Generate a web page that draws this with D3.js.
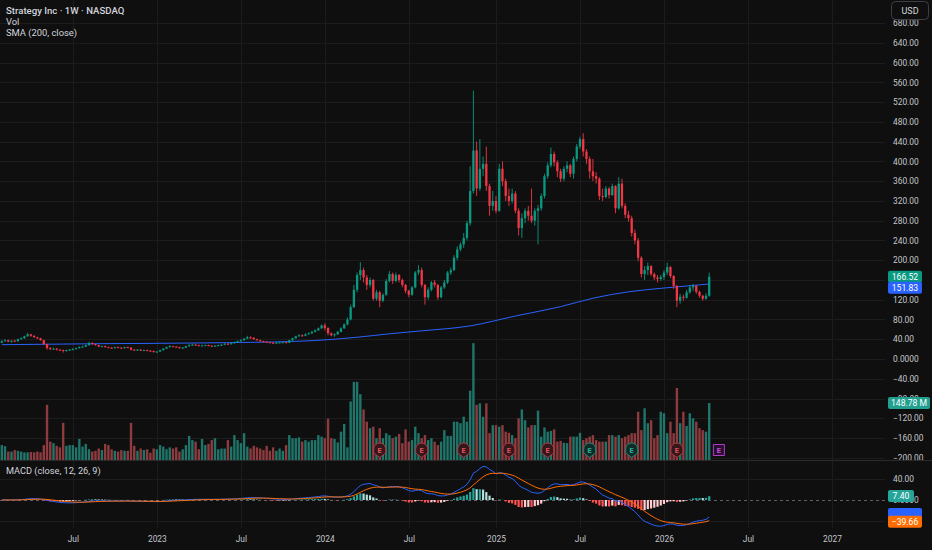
<!DOCTYPE html>
<html>
<head>
<meta charset="utf-8">
<script src="https://cdn.jsdelivr.net/npm/d3@7"></script>
<style>
  html, body { margin: 0; padding: 0; background: #0f0f0f; overflow: hidden; }
  svg { display: block; font-family: Roboto, "Noto Sans", sans-serif; }
</style>
</head>
<body>
<div class="content"></div>
<script>
const SVG_W = 932, SVG_H = 550;
const PLOT_R = 885;                 // price scale starts here
const MAIN_B = 460;                 // bottom of price pane
const MACD_T = 461, MACD_B = 528;   // macd pane

// ---- data (weekly bars, split adjusted, from the week of 2022-01-31) ----
const firstWeek = "2022-01-31";
const firstOpen = 33;
const weekClose = [
  36,38,35,37,36,40,42,46,50,47, 44,42,38,30,22,20,21,19,18,16,
  18,19,20,22,24,25,28,32,30,28, 25,26,24,23,22,24,23,22,24,23,
  19,18,19,17,18,17,16,14,15,18, 21,24,26,25,24,22,23,26,28,29,
  28,27,27.5,28,27,26,27,28,29,31, 30,32,34,36,38,41,44,43,40,38,
  36,35,34,33,32,33,33.5,34,33,38, 42,46,48,47,50,52,55,58,62,68,
  63,52,48,50,55,62,70,80,105,140, 170,180,165,150,160,122,135,118,130,158,
  172,158,170,160,150,138,130,145,175,180, 150,125,140,155,150,125,145,155,175,180,
  205,222,232,245,275,340,422,345,385,395, 350,310,320,300,385,360,330,320,335,300,
  265,285,300,290,280,300,305,330,370,392, 415,398,380,365,385,392,375,405,430,445,
  420,405,380,370,365,330,328,345,332,350, 305,355,310,292,285,255,240,205,172,180,
  188,172,165,162,166,175,186,168,148,118, 126,124,135,145,148,136,128,122,128,166.52
];
const weekHigh = [
  38,40,39,38,39,41,44,47,53,51, 48,45,43,39,31,24,23,22,20,19,
  19,20,22,23,26,27,29,35,34,31, 29,27,27,25,24,25,25,24,25,25,
  24,20,20,20,19,19,18,17,16,19, 22,25,28,27,26,25,24,27,30,31,
  30,29,29,29,29,28,28,29,30,32, 32,33,35,37,40,43,47,46,44,41,
  39,37,36,35,34,34,35,35,35,39, 43,47,50,50,52,54,57,60,64,70,
  72,64,54,52,57,64,72,84,110,150, 175,196,185,170,165,162,140,138,133,162,
  178,175,175,172,163,152,140,148,178,190, 185,152,145,158,160,152,148,160,178,185,
  210,228,236,255,280,390,543,440,445,410, 430,355,340,330,395,400,365,345,345,340,
  305,295,305,310,345,305,312,335,375,398, 428,420,402,385,390,400,395,410,435,450,
  457,425,410,405,378,368,345,350,348,355, 352,368,365,315,300,290,262,245,208,188,
  195,190,175,170,170,180,195,188,170,150, 132,130,140,150,152,150,138,130,133,175
];
const weekLow = [
  32,35,34,33,35,35,39,41,45,45, 43,40,37,29,19,18,19,17,16,13,
  15,17,18,19,21,23,24,27,29,27, 24,24,23,22,21,21,22,21,21,22,
  17,17,17,16,16,16,15,13,13,15, 17,20,23,24,23,21,21,22,25,27,
  27,26,26,27,26,25,25,26,27,28, 29,29,31,33,35,37,40,41,39,37,
  35,34,33,32,31,31,32,32,32,32, 37,41,45,45,46,49,51,54,57,61,
  58,48,46,45,49,54,61,68,78,103, 135,160,155,140,145,118,118,105,115,128,
  155,152,155,155,145,133,125,128,143,170, 145,110,120,137,145,120,123,142,152,170,
  178,200,218,225,240,270,335,330,340,370, 340,290,300,295,298,350,320,310,315,295,
  250,245,275,280,275,270,232,300,325,365, 388,390,368,358,360,378,368,365,400,425,
  410,395,365,360,355,322,320,325,325,330, 295,302,305,285,278,248,232,198,165,160,
  170,168,160,155,158,160,170,164,142,105, 112,118,122,132,138,132,124,118,120,126
];
// volume in millions of shares
const weekVolume = [
  39,36,22,22,26,24,22,20,20,21, 20,22,20,39,144,48,44,37,33,97,
  37,39,39,33,55,35,42,28,22,24, 30,26,42,39,28,24,22,26,24,24,
  97,37,24,30,26,28,19,30,28,39, 35,28,33,30,33,22,28,39,63,52,
  48,28,55,39,42,52,57,28,30,30, 52,35,65,52,44,70,35,30,37,33,
  30,26,37,24,33,24,30,24,39,65, 57,57,59,48,52,48,52,52,65,61,
  57,108,57,55,46,74,94,33,153,204, 204,172,132,100,83,87,57,83,57,70,
  65,57,61,68,44,80,48,52,87,70, 57,65,52,57,48,39,48,78,63,63,
  100,100,96,113,100,181,305,144,148,113, 148,70,91,91,87,91,74,71,65,57,
  109,132,104,85,91,91,129,61,85,74, 76,80,48,50,45,44,61,61,61,71,
  52,57,61,65,52,48,48,48,65,65, 61,65,57,61,65,70,70,126,78,135,
  96,104,57,65,126,122,70,100,70,188, 96,126,89,122,109,100,83,78,74,148.78
];
// SMA(200): [week index, value]
const smaPoints = [
  [0,29],[31,31],[62,32.5],[92,36],[110,44],[120,51],[130,57],[145,67],
  [159,87],[173,106],[183,123],[194,136],[204,143],[209,146],[219,151.83]
];
const earnings = [
  ["2024-04-29","miss"],["2024-07-29","miss"],["2024-10-28","miss"],["2025-02-03","miss"],
  ["2025-04-28","miss"],["2025-07-28","beat"],["2025-10-27","beat"],["2026-02-02","miss"],
  ["2026-05-04","next"]
];
const priceTicks = [-200,-160,-120,-80,-40,0,40,80,120,160,200,240,280,320,360,400,440,480,520,560,600,640,680];
const macdTicks = [-40, 0, 40];
const timeTickDates = ["2022-07-04","2023-01-02","2023-07-03","2024-01-01","2024-07-01",
                       "2025-01-06","2025-07-07","2026-01-05","2026-07-06","2027-01-04"];
const timeTickLabels = ["Jul","2023","Jul","2024","Jul","2025","Jul","2026","Jul","2027"];
const lastHist = 7.40, lastMacd = -32.26, lastSignal = -39.66;

// ---- colours ----
const UP = "#089981", DOWN = "#f23645";
const VOL_UP = "#1f7569", VOL_DOWN = "#8e3b3f";
const GRID = "#1c1c1c", AXIS_TXT = "#c3c6cc", LEG_TXT = "#d1d4dc";
const FONT = 'Roboto, "Noto Sans", sans-serif';

const weekMs = 7 * 864e5, t0 = new Date(firstWeek).getTime();
const weekIndex = d => Math.round((new Date(d).getTime() - t0) / weekMs);

const bars = weekClose.map((c, i) => ({
  i, c, o: i === 0 ? firstOpen : weekClose[i - 1], h: weekHigh[i], l: weekLow[i], v: weekVolume[i]
}));
bars.forEach(b => b.up = b.c >= b.o);

// ---- scales ----
const x = d3.scaleLinear().domain([0, 219]).range([1.8, 709.2]);
const y = d3.scaleLinear().domain([0, 680]).range([359, 359 - 680 * 0.494]);
const vy = d3.scaleLinear().domain([0, 300]).range([MAIN_B, MAIN_B - 300 * 0.383]);
const my = d3.scaleLinear().domain([-40, 40]).range([521, 479]);

const svg = d3.select(".content").append("svg").attr("width", SVG_W).attr("height", SVG_H);
svg.append("rect").attr("width", SVG_W).attr("height", SVG_H).attr("fill", "#0f0f0f");

const defs = svg.append("defs");
function clip(id, x0, y0, w, h) {
  defs.append("clipPath").attr("id", id).append("rect").attr("x", x0).attr("y", y0).attr("width", w).attr("height", h);
}
clip("clip-main", 0, 0, PLOT_R, MAIN_B);
clip("clip-macd", 0, MACD_T, PLOT_R, MACD_B - MACD_T);
clip("clip-paxis", PLOT_R, 0, SVG_W - PLOT_R, MAIN_B);
clip("clip-maxis", PLOT_R, MACD_T, SVG_W - PLOT_R, MACD_B - MACD_T);

// ---- grid ----
const grid = svg.append("g");
grid.selectAll(".vgrid").data(timeTickDates).join("line").attr("class", "vgrid")
  .attr("x1", d => Math.round(x(weekIndex(d))) + 0.5).attr("x2", d => Math.round(x(weekIndex(d))) + 0.5)
  .attr("y1", 0).attr("y2", MACD_B).attr("stroke", GRID);
grid.selectAll(".hgrid").data(priceTicks.filter(v => y(v) < MAIN_B - 1)).join("line").attr("class", "hgrid")
  .attr("x1", 0).attr("x2", PLOT_R).attr("y1", d => Math.round(y(d)) + 0.5).attr("y2", d => Math.round(y(d)) + 0.5)
  .attr("stroke", GRID);
grid.selectAll(".mgrid").data(macdTicks.filter(v => v !== 0)).join("line").attr("class", "mgrid")
  .attr("x1", 0).attr("x2", PLOT_R).attr("y1", d => Math.round(my(d)) + 0.5).attr("y2", d => Math.round(my(d)) + 0.5)
  .attr("stroke", GRID);

// ---- price pane ----
const main = svg.append("g").attr("clip-path", "url(#clip-main)");

main.selectAll(".vol").data(bars).join("rect").attr("class", "vol")
  .attr("x", d => x(d.i) - 1.2).attr("width", 2.4)
  .attr("y", d => vy(d.v)).attr("height", d => MAIN_B - vy(d.v))
  .attr("fill", d => d.up ? VOL_UP : VOL_DOWN);

// earnings markers
const eColors = {
  miss: { fill: "#35161a", stroke: "#b23a43", text: "#e0545e" },
  beat: { fill: "#0e2b27", stroke: "#1b8a78", text: "#2bb39c" },
  next: { fill: "#2a0e30", stroke: "#b03cc8", text: "#c64fdc" }
};
const eg = main.selectAll(".earn").data(earnings).join("g").attr("class", "earn")
  .attr("transform", d => `translate(${x(weekIndex(d[0]))},450)`);
eg.append("path")
  .attr("d", d => d[1] === "next"
    ? "M-5.5,-5.5 h11 v11 h-11 Z"
    : "M-6,-1 A6,6 0 1,1 6,-1 L6,3 L0,7.5 L-6,3 Z")
  .attr("fill", d => eColors[d[1]].fill).attr("stroke", d => eColors[d[1]].stroke).attr("stroke-width", 1);
eg.append("text").attr("text-anchor", "middle").attr("y", 0).attr("dy", "0.35em")
  .attr("font-size", 7.5).attr("font-weight", 700).attr("font-family", FONT)
  .attr("fill", d => eColors[d[1]].text).text("E");

// SMA 200
main.append("path").datum(smaPoints)
  .attr("d", d3.line().x(d => x(d[0])).y(d => y(d[1])).curve(d3.curveMonotoneX))
  .attr("fill", "none").attr("stroke", "#2962ff").attr("stroke-width", 1);

// candles
main.selectAll(".wick").data(bars).join("line").attr("class", "wick")
  .attr("x1", d => x(d.i)).attr("x2", d => x(d.i))
  .attr("y1", d => y(d.h)).attr("y2", d => y(d.l))
  .attr("stroke", d => d.up ? UP : DOWN).attr("stroke-width", 0.9);
main.selectAll(".body").data(bars).join("rect").attr("class", "body")
  .attr("x", d => x(d.i) - 1.15).attr("width", 2.3)
  .attr("y", d => y(Math.max(d.o, d.c)))
  .attr("height", d => Math.max(1, Math.abs(y(d.o) - y(d.c))))
  .attr("fill", d => d.up ? UP : DOWN);

// ---- MACD (close, 12, 26, 9) ----
function ema(src, n) {
  const k = 2 / (n + 1), out = [];
  src.forEach((v, i) => out.push(i === 0 ? v : v * k + out[i - 1] * (1 - k)));
  return out;
}
const e12 = ema(weekClose, 12), e26 = ema(weekClose, 26);
const macd = e12.map((v, i) => v - e26[i]);
const signal = ema(macd, 9);
const hist = macd.map((v, i) => v - signal[i]);
const histColor = (h, i) => {
  const p = i > 0 ? hist[i - 1] : h;
  return h >= 0 ? (h >= p ? "#26a69a" : "#b2dfdb") : (h < p ? "#ff5252" : "#ffcdd2");
};

const mp = svg.append("g").attr("clip-path", "url(#clip-macd)");
mp.append("line").attr("x1", 0).attr("x2", PLOT_R).attr("y1", Math.round(my(0)) + 0.5).attr("y2", Math.round(my(0)) + 0.5)
  .attr("stroke", "#5d606b").attr("stroke-dasharray", "3,3");
mp.selectAll(".hist").data(hist).join("rect").attr("class", "hist")
  .attr("x", (d, i) => x(i) - 1.1).attr("width", 2.2)
  .attr("y", d => Math.min(my(0), my(d))).attr("height", d => Math.abs(my(d) - my(0)))
  .attr("fill", histColor);
const mline = d3.line().x((d, i) => x(i)).y(d => my(d));
mp.append("path").datum(macd).attr("d", mline).attr("fill", "none").attr("stroke", "#2962ff").attr("stroke-width", 1);
mp.append("path").datum(signal).attr("d", mline).attr("fill", "none").attr("stroke", "#ff6d00").attr("stroke-width", 1);

// pane separator
svg.append("line").attr("x1", 0).attr("x2", SVG_W).attr("y1", MAIN_B + 0.5).attr("y2", MAIN_B + 0.5)
  .attr("stroke", "#2a2a2a");

// ---- last value tags (positions first, so fully covered scale labels can be skipped) ----
const lastBar = bars[bars.length - 1];
const lastSma = smaPoints[smaPoints.length - 1][1];
const fmtPrice = v => v === 0 ? "0.0000" : (v < 0 ? "\u2212" : "") + Math.abs(v).toFixed(2);
const closeY = y(lastBar.c);
const priceTags = [
  { cy: closeY, text: fmtPrice(lastBar.c), fill: UP, w: 34 },
  { cy: Math.max(y(lastSma), closeY + 11), text: fmtPrice(lastSma), fill: "#2962ff", w: 34 },
  { cy: vy(lastBar.v), text: lastBar.v.toFixed(2) + " M", fill: "#22a08f", w: 42 }
];
const macdTags = [
  { cy: my(lastHist), text: fmtPrice(lastHist), fill: "#26a69a", w: 26 },
  { cy: my(lastMacd) - 3, text: "", fill: "#2962ff", w: 34 },           // hidden under the signal tag
  { cy: my(lastSignal) + 1, text: fmtPrice(lastSignal), fill: "#ff6d00", w: 34 }
];
const covered = (tagList, pos) => tagList.some(t => t.w >= 33 && Math.abs(t.cy - pos) < 4);

// ---- axes ----
function styleAxis(g) {
  g.select(".domain").remove();
  g.attr("font-family", FONT).attr("font-size", 8.4);
  g.selectAll("text").attr("fill", AXIS_TXT);
}
svg.append("g").attr("clip-path", "url(#clip-paxis)").append("g")
  .attr("transform", `translate(${PLOT_R},0)`)
  .call(d3.axisRight(y).tickValues(priceTicks.filter(v => !covered(priceTags, y(v))))
    .tickSize(0).tickPadding(8).tickFormat(fmtPrice))
  .call(styleAxis);
svg.append("g").attr("clip-path", "url(#clip-maxis)").append("g")
  .attr("transform", `translate(${PLOT_R},0)`)
  .call(d3.axisRight(my).tickValues(macdTicks.filter(v => !covered(macdTags, my(v))))
    .tickSize(0).tickPadding(8).tickFormat(fmtPrice))
  .call(styleAxis);
svg.append("g").attr("transform", `translate(0,${MACD_B})`)
  .call(d3.axisBottom(x).tickValues(timeTickDates.map(weekIndex)).tickSize(0).tickPadding(8)
    .tickFormat((d, k) => timeTickLabels[k]))
  .call(styleAxis);

const tags = svg.append("g").attr("font-family", FONT);
function tag(t) {
  tags.append("rect").attr("x", 888).attr("y", t.cy - 6).attr("width", t.w).attr("height", 12).attr("rx", 2).attr("fill", t.fill);
  if (t.text) {
    tags.append("text").attr("x", 888 + t.w / 2).attr("y", t.cy).attr("dy", "0.35em").attr("text-anchor", "middle")
      .attr("font-size", 8.6).attr("fill", "#ffffff").text(t.text);
  }
}
priceTags.forEach(tag);
macdTags.forEach(tag);

// ---- legends ----
const leg = svg.append("g").attr("font-family", FONT).attr("fill", LEG_TXT);
leg.append("text").attr("x", 6).attr("y", 14).attr("font-size", 9.6).attr("font-weight", 500)
  .text("Strategy Inc \u00b7 1W \u00b7 NASDAQ");
leg.append("text").attr("x", 6).attr("y", 25).attr("font-size", 9.4).text("Vol");
leg.append("text").attr("x", 6).attr("y", 36).attr("font-size", 9.4).text("SMA (200, close)");
leg.append("text").attr("x", 6).attr("y", 474).attr("font-size", 9.2).text("MACD (close, 12, 26, 9)");

// currency button
svg.append("rect").attr("x", 891.5).attr("y", 1.5).attr("width", 37).attr("height", 18).attr("rx", 4)
  .attr("fill", "#0f0f0f").attr("stroke", "#3d3f46");
svg.append("text").attr("x", 910).attr("y", 10.5).attr("dy", "0.35em").attr("text-anchor", "middle")
  .attr("font-family", FONT).attr("font-size", 9).attr("fill", LEG_TXT).text("USD");
</script>
</body>
</html>
